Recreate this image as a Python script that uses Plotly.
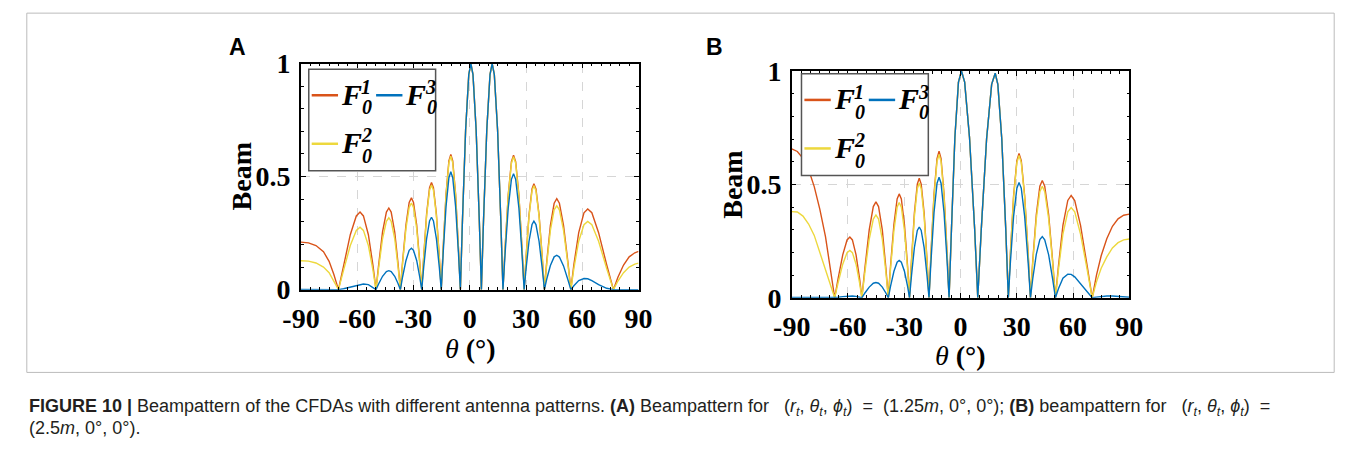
import plotly.graph_objects as go

# ---------------- data ----------------
theta_A = [-90, -86, -82, -78, -75, -72.5, -70,
           -67.3, -63.7, -60.5, -58.5, -56.7, -54.05, -51.6, -50,
           -48.55, -46.5, -44.45, -43.15, -41.9, -40.0, -38.2, -37,
           -35.8, -34.0, -32.3, -31.1, -30.0, -28.3, -26.7, -25.6,
           -24.56, -23.0, -21.44, -20.4, -19.36, -17.8, -16.24, -15.2,
           -14.18, -12.65, -11.12, -10.1, -9.08, -7.55, -6.02, -5.0,
           -3.88, -2.2, -0.52, 0.6, 1.72, 3.4, 5.08, 6.2,
           7.35, 9.08, 10.8, 11.95, 13.1, 14.83, 16.55, 17.7,
           18.83, 20.53, 22.22, 23.35, 24.48, 26.18, 27.87, 29.0,
           30.03, 31.6, 33.2, 34.2, 35.3, 36.95, 38.65, 39.8,
           41.05, 43.0, 45.0, 46.4, 47.8, 50.0, 52.3, 53.9,
           55.5, 58.1, 60.9, 62.9, 65.1, 68.7, 73.0, 76.6,
           79, 82, 85, 88, 90]

beam_A_F1 = [0.210, 0.207, 0.195, 0.168, 0.125, 0.068, 0,
             0.106, 0.243, 0.326, 0.343, 0.326, 0.243, 0.106, 0,
             0.112, 0.255, 0.343, 0.361, 0.343, 0.255, 0.112, 0,
             0.125, 0.287, 0.386, 0.406, 0.386, 0.287, 0.125, 0,
             0.146, 0.335, 0.451, 0.474, 0.451, 0.335, 0.146, 0,
             0.185, 0.423, 0.569, 0.598, 0.569, 0.423, 0.185, 0,
             0.309, 0.707, 0.951, 1.0, 0.951, 0.707, 0.309, 0,
             0.309, 0.707, 0.951, 1.0, 0.951, 0.707, 0.309, 0,
             0.184, 0.421, 0.566, 0.595, 0.566, 0.421, 0.184, 0,
             0.145, 0.331, 0.445, 0.468, 0.445, 0.331, 0.145, 0,
             0.124, 0.284, 0.382, 0.402, 0.382, 0.284, 0.124, 0,
             0.110, 0.252, 0.340, 0.357, 0.340, 0.252, 0.110, 0,
             0.055, 0.109, 0.145, 0.163, 0.169]

beam_A_F2 = [0.128, 0.126, 0.118, 0.100, 0.075, 0.040, 0,
             0.085, 0.195, 0.262, 0.276, 0.262, 0.195, 0.085, 0,
             0.098, 0.225, 0.302, 0.318, 0.302, 0.225, 0.098, 0,
             0.118, 0.271, 0.364, 0.383, 0.364, 0.271, 0.118, 0,
             0.143, 0.327, 0.440, 0.463, 0.440, 0.327, 0.143, 0,
             0.182, 0.417, 0.561, 0.590, 0.561, 0.417, 0.182, 0,
             0.309, 0.707, 0.951, 1.0, 0.951, 0.707, 0.309, 0,
             0.309, 0.707, 0.951, 1.0, 0.951, 0.707, 0.309, 0,
             0.182, 0.416, 0.559, 0.588, 0.559, 0.416, 0.182, 0,
             0.142, 0.325, 0.437, 0.460, 0.437, 0.325, 0.142, 0,
             0.115, 0.262, 0.353, 0.371, 0.353, 0.262, 0.115, 0,
             0.093, 0.214, 0.287, 0.302, 0.287, 0.214, 0.093, 0,
             0.038, 0.075, 0.100, 0.113, 0.117]

beam_A_F3 = [0.001, 0.001, 0.001, 0.001, 0.001, 0.0, 0,
             0.004, 0.011, 0.019, 0.022, 0.025, 0.022, 0.010, 0,
             0.026, 0.059, 0.080, 0.084, 0.080, 0.059, 0.026, 0,
             0.057, 0.129, 0.174, 0.183, 0.174, 0.129, 0.057, 0,
             0.099, 0.226, 0.304, 0.320, 0.304, 0.226, 0.099, 0,
             0.161, 0.368, 0.495, 0.521, 0.495, 0.368, 0.161, 0,
             0.309, 0.707, 0.951, 1.0, 0.951, 0.707, 0.309, 0,
             0.309, 0.707, 0.951, 1.0, 0.951, 0.707, 0.309, 0,
             0.159, 0.363, 0.488, 0.513, 0.488, 0.363, 0.159, 0,
             0.094, 0.214, 0.288, 0.303, 0.288, 0.214, 0.094, 0,
             0.047, 0.107, 0.145, 0.152, 0.144, 0.105, 0.045, 0,
             0.017, 0.040, 0.049, 0.048, 0.040, 0.022, 0.006, 0,
             0.0, 0.0, 0.0, 0.0, 0.0]

theta_B = [-90, -87, -84, -81, -78, -75, -72, -69.5, -67.1,
           -65.3, -62.8, -60.5, -59.0, -57.65, -55.7, -53.8, -52.6,
           -50.98, -48.68, -46.5, -45.1, -43.7, -41.7, -39.8, -38.5,
           -37.3, -35.5, -33.8, -32.7, -31.55, -29.9, -28.25, -27.2,
           -26.16, -24.6, -23.04, -22.0, -20.96, -19.4, -17.84, -16.8,
           -15.73, -14.13, -12.52, -11.45, -10.38, -8.78, -7.17, -6.1,
           -4.8, -3.0, -1.1, 0.5, 2.2, 4.8, 7.5, 9.2,
           11.1, 13.9, 16.6, 18.5, 19.9, 22.0, 24.1, 25.5,
           26.6, 28.3, 30.05, 31.2, 32.4, 34.2, 36.05, 37.3,
           38.5, 40.4, 42.3, 43.6, 44.9, 47.0, 49.15, 50.6,
           52.2, 54.6, 57.2, 59.0, 60.9, 64.0, 67.55, 70.2,
           72.5, 75, 78, 81, 84, 87, 90]

beam_B_F1 = [0.657, 0.645, 0.615, 0.565, 0.490, 0.390, 0.270, 0.130, 0,
             0.083, 0.189, 0.255, 0.268, 0.255, 0.189, 0.083, 0,
             0.131, 0.299, 0.402, 0.423, 0.402, 0.299, 0.131, 0,
             0.142, 0.324, 0.436, 0.458, 0.436, 0.324, 0.142, 0,
             0.163, 0.373, 0.501, 0.527, 0.501, 0.373, 0.163, 0,
             0.200, 0.457, 0.614, 0.646, 0.614, 0.457, 0.200, 0,
             0.309, 0.707, 0.951, 1.0, 0.951, 0.707, 0.309, 0,
             0.306, 0.700, 0.941, 0.990, 0.941, 0.700, 0.306, 0,
             0.197, 0.450, 0.605, 0.636, 0.605, 0.450, 0.197, 0,
             0.160, 0.366, 0.492, 0.517, 0.492, 0.366, 0.160, 0,
             0.139, 0.319, 0.429, 0.451, 0.429, 0.319, 0.139, 0,
             0.100, 0.185, 0.260, 0.315, 0.348, 0.364, 0.369]

beam_B_F2 = [0.380, 0.378, 0.360, 0.325, 0.275, 0.200, 0.120, 0.055, 0,
             0.065, 0.148, 0.199, 0.209, 0.199, 0.148, 0.065, 0,
             0.113, 0.258, 0.347, 0.365, 0.347, 0.258, 0.113, 0,
             0.130, 0.297, 0.399, 0.420, 0.399, 0.297, 0.130, 0,
             0.156, 0.358, 0.481, 0.506, 0.481, 0.358, 0.156, 0,
             0.195, 0.447, 0.601, 0.632, 0.601, 0.447, 0.195, 0,
             0.309, 0.707, 0.951, 1.0, 0.951, 0.707, 0.309, 0,
             0.306, 0.700, 0.941, 0.990, 0.941, 0.700, 0.306, 0,
             0.194, 0.443, 0.596, 0.627, 0.596, 0.443, 0.194, 0,
             0.152, 0.348, 0.468, 0.492, 0.468, 0.348, 0.152, 0,
             0.123, 0.281, 0.379, 0.398, 0.379, 0.281, 0.123, 0,
             0.070, 0.130, 0.180, 0.220, 0.243, 0.255, 0.259]

beam_B_F3 = [0.001, 0.001, 0.001, 0.001, 0.001, 0.001, 0.0, 0, 0,
             0.002, 0.005, 0.007, 0.008, 0.008, 0.006, 0.003, 0,
             0.021, 0.047, 0.064, 0.067, 0.064, 0.047, 0.021, 0,
             0.051, 0.117, 0.157, 0.165, 0.157, 0.117, 0.051, 0,
             0.096, 0.221, 0.297, 0.312, 0.297, 0.221, 0.096, 0,
             0.164, 0.375, 0.505, 0.531, 0.505, 0.375, 0.164, 0,
             0.309, 0.707, 0.951, 1.0, 0.951, 0.707, 0.309, 0,
             0.306, 0.700, 0.941, 0.990, 0.941, 0.700, 0.306, 0,
             0.157, 0.359, 0.483, 0.508, 0.483, 0.359, 0.157, 0,
             0.083, 0.191, 0.257, 0.270, 0.256, 0.189, 0.081, 0,
             0.040, 0.086, 0.104, 0.103, 0.092, 0.062, 0.024, 0,
             0.003, 0.006, 0.008, 0.008, 0.006, 0.004, 0.002]

x_tickvals = [-90, -60, -30, 0, 30, 60, 90]
x_ticktext = ["-90", "-60", "-30", "0", "30", "60", "90"]
y_tickvals = [0, 0.5, 1]
y_ticktext = ["0", "0.5", "1"]

series_names = ["F1", "F2", "F3"]
sup_digits = ["1", "2", "3"]
colors = ["#D95319", "#EDD83D", "#0072BD"]

# ---------------- figure ----------------
W, H = 1356, 464


def px(x):
    return x / W


def py(y):
    return 1 - y / H


fig = go.Figure()

panels = [
    dict(theta=theta_A, ys=[beam_A_F1, beam_A_F2, beam_A_F3], xa="x", ya="y"),
    dict(theta=theta_B, ys=[beam_B_F1, beam_B_F2, beam_B_F3], xa="x2", ya="y2"),
]
for p in panels:
    for name, yv, c in zip(series_names, p["ys"], colors):
        fig.add_trace(go.Scatter(x=p["theta"], y=yv, mode="lines", name=name,
                                 line=dict(color=c, width=1.4),
                                 xaxis=p["xa"], yaxis=p["ya"], showlegend=False))

SERIF = "Liberation Serif"
tickfont = dict(family=SERIF, size=28, color="black", weight="bold")
common_x = dict(range=[-90, 90], tickmode="array", tickvals=x_tickvals, ticktext=x_ticktext,
                showline=True, linecolor="black", linewidth=1.5, mirror="allticks",
                ticks="inside", ticklen=5, tickwidth=1.2, tickcolor="black",
                minor=dict(ticks="inside", dtick=5, ticklen=3, tickcolor="black", showgrid=False),
                showgrid=True, gridcolor="#d6d6d6", griddash="dash", gridwidth=1,
                zeroline=False, tickfont=tickfont, fixedrange=True, ticklabelstandoff=3)
common_y = dict(range=[0, 1], tickmode="array", tickvals=y_tickvals, ticktext=y_ticktext,
                showline=True, linecolor="black", linewidth=1.5, mirror="allticks",
                ticks="inside", ticklen=5, tickwidth=1.2, tickcolor="black",
                minor=dict(ticks="inside", dtick=0.1, ticklen=3, tickcolor="black", showgrid=False),
                showgrid=True, gridcolor="#d6d6d6", griddash="dash", gridwidth=1,
                zeroline=False, tickfont=tickfont, fixedrange=True, ticklabelstandoff=3)

fig.update_layout(
    width=W, height=H, margin=dict(l=0, r=0, t=0, b=0),
    paper_bgcolor="white", plot_bgcolor="white", showlegend=False,
    xaxis=dict(domain=[px(289), px(635)], anchor="y", **common_x),
    yaxis=dict(domain=[py(294.3), py(52)], anchor="x", **common_y),
    xaxis2=dict(domain=[px(792), px(1138)], anchor="y2", **common_x),
    yaxis2=dict(domain=[py(303), py(60)], anchor="x2", **common_y),
)

shapes = []
ann = []

# panel letters, axis titles
for letter, (lx, ly) in zip(["A", "B"], [(224, 34), (713, 34)]):
    ann.append(dict(x=px(lx), y=py(ly), xref="paper", yref="paper", text="<b>%s</b>" % letter,
                    showarrow=False, xanchor="center", yanchor="middle",
                    font=dict(family="Liberation Sans", size=23, color="black")))
for (bx, by), (tx, ty) in [((229, 172.5), (462.5, 357)), ((731.7, 182), (965, 365))]:
    ann.append(dict(x=px(bx), y=py(by), xref="paper", yref="paper", text="<b>Beam</b>",
                    textangle=-90, showarrow=False, xanchor="center", yanchor="middle",
                    font=dict(family=SERIF, size=28, color="black")))
    ann.append(dict(x=px(tx), y=py(ty), xref="paper", yref="paper", text="<i>θ</i> <b>(°)</b>",
                    showarrow=False, xanchor="center", yanchor="middle",
                    font=dict(family=SERIF, size=28, color="black")))

# legends (drawn inside each panel)
for ox, oy in [(297, 58), (802, 63)]:
    shapes.append(dict(type="rect", xref="paper", yref="paper",
                       x0=px(ox), x1=px(ox + 130), y0=py(oy), y1=py(oy + 109),
                       line=dict(color="#555555", width=1.5), fillcolor="white", layer="above"))
    entries = [(0, 3, 28), (2, 69, 28), (1, 3, 80)]
    for idx, ex, ey in entries:
        shapes.append(dict(type="line", xref="paper", yref="paper",
                           x0=px(ox + ex), x1=px(ox + ex + 27), y0=py(oy + ey), y1=py(oy + ey),
                           line=dict(color=colors[idx], width=2.5), layer="above"))
        ann.append(dict(x=px(ox + ex + 28), y=py(oy + ey - 1), xref="paper", yref="paper",
                        text="<b><i>F</i></b>", showarrow=False, xanchor="left", yanchor="middle",
                        font=dict(family=SERIF, size=30, color="black")))
        ann.append(dict(x=px(ox + ex + 56), y=py(oy + ey - 9), xref="paper", yref="paper",
                        text="<b><i>%s</i></b>" % sup_digits[idx], showarrow=False,
                        xanchor="center", yanchor="middle",
                        font=dict(family=SERIF, size=20, color="black")))
        ann.append(dict(x=px(ox + ex + 57), y=py(oy + ey + 13), xref="paper", yref="paper",
                        text="<b><i>0</i></b>", showarrow=False,
                        xanchor="center", yanchor="middle",
                        font=dict(family=SERIF, size=20, color="black")))

# caption
tup = ("(<i>r<sub>t</sub></i>,&nbsp;<i>θ<sub>t</sub></i>,&nbsp;<i>ϕ<sub>t</sub></i>)&nbsp; =")
cap1 = ("<b>FIGURE 10 |</b> Beampattern of the CFDAs with different antenna patterns. "
        "<b>(A)</b> Beampattern for&nbsp;&nbsp; " + tup +
        "&nbsp; (1.25<i>m</i>,&nbsp;0°,&nbsp;0°); <b>(B)</b> beampattern for&nbsp;&nbsp; " + tup)
cap2 = "(2.5<i>m</i>,&nbsp;0°,&nbsp;0°)."
capfont = dict(family="Liberation Sans", size=18, color="#231f20")
ann.append(dict(x=px(8), y=py(421), xref="paper", yref="paper", text=cap1, showarrow=False,
                xanchor="left", yanchor="middle", font=capfont))
ann.append(dict(x=px(8), y=py(443), xref="paper", yref="paper", text=cap2, showarrow=False,
                xanchor="left", yanchor="middle", font=capfont))

# outer frame of the figure area
shapes.append(dict(type="rect", xref="paper", yref="paper", x0=px(8), x1=px(1348),
                   y0=py(383), y1=py(-2), line=dict(color="#bbbbbb", width=1)))

fig.update_layout(shapes=shapes, annotations=ann)
fig.write_html("out.html")
